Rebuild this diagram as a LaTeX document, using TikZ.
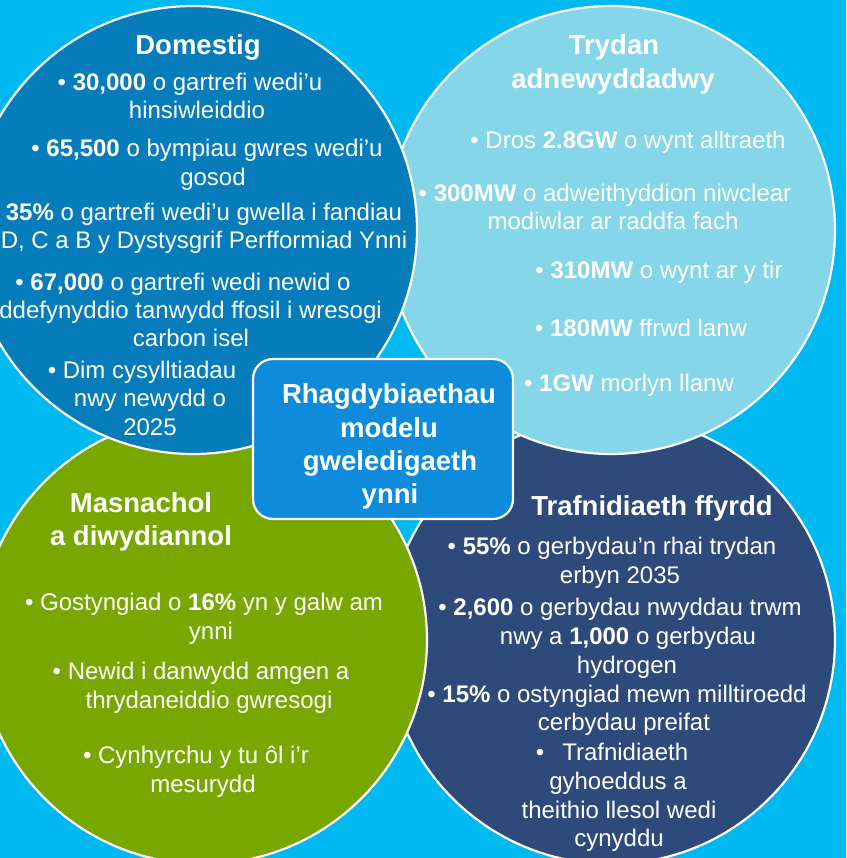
\documentclass[tikz,border=0pt]{standalone}
\usepackage{fontspec}
\setmainfont{Liberation Sans}
\definecolor{bgc}{HTML}{00B9F1}
\definecolor{domc}{HTML}{077CBB}
\definecolor{tryc}{HTML}{84D6E8}
\definecolor{masc}{HTML}{78A800}
\definecolor{trac}{HTML}{2E4A7B}
\definecolor{boxc}{HTML}{0E8CDB}
\tikzset{
  bubble/.style={circle, draw=white, line width=2.2pt, minimum size=448pt, inner sep=0pt},
  centrebox/.style={rectangle, draw=white, line width=2.2pt, fill=boxc, rounded corners=20pt, minimum width=260pt, minimum height=160pt, inner sep=0pt},
  ttl/.style={text=white, inner sep=0pt, font=\fontsize{27.5}{33}\selectfont\bfseries, text height=20pt, text depth=0pt},
  bod/.style={text=white, inner sep=0pt, font=\fontsize{24}{28}\selectfont, text height=17pt, text depth=0pt},
}
\begin{document}
\begin{tikzpicture}[x=1pt,y=-1pt]
\useasboundingbox (0,0) rectangle (846,858);
\clip (0,0) rectangle (846,858);
\fill[bgc] (0,0) rectangle (846,858);
% circles (drawing order matters)
\node[bubble, fill=trac] (trafc) at (611,640) {};
\node[bubble, fill=tryc] (tryc) at (611,230) {};
\node[bubble, fill=masc] (masc) at (203,640) {};
\node[bubble, fill=domc] (domc) at (193,230) {};
\node[centrebox] (box) at (383,439) {};
% Domestig
\node[ttl] (d0) at (198,45) {Domestig};
\node[bod] (d1) at (190,82) {• \textbf{30,000} o gartrefi wedi’u};
\node[bod] (d2) at (197,110) {hinsiwleiddio};
\node[bod] (d3) at (207,148) {• \textbf{65,500} o bympiau gwres wedi’u};
\node[bod] (d4) at (213,177) {gosod};
\node[bod] (d5) at (204,212) {\textbf{35\%} o gartrefi wedi’u gwella i fandiau};
\node[bod] (d6) at (204,240) {D, C a B y Dystysgrif Perfformiad Ynni};
\node[bod] (d7) at (183,282) {• \textbf{67,000} o gartrefi wedi newid o};
\node[bod, anchor=east] (d8) at (382,310) {ddefynyddio tanwydd ffosil i wresogi};
\node[bod] (d9) at (191,338) {carbon isel};
\node[bod] (d10) at (142,370) {• Dim cysylltiadau};
\node[bod] (d11) at (150,398) {nwy newydd o};
\node[bod] (d12) at (150,427) {2025};
% Trydan adnewyddadwy
\node[ttl] (t0a) at (614,45) {Trydan};
\node[ttl] (t0b) at (613,79) {adnewyddadwy};
\node[bod] (t1) at (628,140) {• Dros \textbf{2.8GW} o wynt alltraeth};
\node[bod] (t2) at (605,193) {• \textbf{300MW} o adweithyddion niwclear};
\node[bod] (t3) at (613,221) {modiwlar ar raddfa fach};
\node[bod] (t4) at (659,270) {• \textbf{310MW} o wynt ar y tir};
\node[bod] (t5) at (641,328) {• \textbf{180MW} ffrwd lanw};
\node[bod] (t6) at (629,383) {• \textbf{1GW} morlyn llanw};
% Masnachol a diwydiannol
\node[ttl] (m0a) at (141,502) {Masnachol};
\node[ttl] (m0b) at (141,535) {a diwydiannol};
\node[bod] (m1) at (204,602) {• Gostyngiad o \textbf{16\%} yn y galw am};
\node[bod] (m2) at (211,631) {ynni};
\node[bod] (m3) at (201,671) {• Newid i danwydd amgen a};
\node[bod] (m4) at (209,700) {thrydaneiddio gwresogi};
\node[bod] (m5) at (196,755) {• Cynhyrchu y tu ôl i’r};
\node[bod] (m6) at (203,784) {mesurydd};
% Trafnidiaeth ffyrdd
\node[ttl] (f0) at (652,505) {Trafnidiaeth ffyrdd};
\node[bod] (f1) at (612,546) {• \textbf{55\%} o gerbydau’n rhai trydan};
\node[bod] (f2) at (620,575) {erbyn 2035};
\node[bod] (f3) at (620,607) {• \textbf{2,600} o gerbydau nwyddau trwm};
\node[bod] (f4) at (628,636) {nwy a \textbf{1,000} o gerbydau};
\node[bod] (f5) at (627,665) {hydrogen};
\node[bod] (f6) at (617,694) {• \textbf{15\%} o ostyngiad mewn milltiroedd};
\node[bod] (f7) at (624,722) {cerbydau preifat};
\node[bod] (f8) at (612,752) {•\hspace{0.75em}Trafnidiaeth};
\node[bod] (f9) at (618,781) {gyhoeddus a};
\node[bod] (f10) at (619,810) {theithio llesol wedi};
\node[bod] (f11) at (619,838) {cynyddu};
% centre box
\node[ttl] (c1) at (389,393) {Rhagdybiaethau};
\node[ttl] (c2) at (389,427) {modelu};
\node[ttl] (c3) at (390,460) {gweledigaeth};
\node[ttl] (c4) at (390,493) {ynni};
\end{tikzpicture}
\end{document}
